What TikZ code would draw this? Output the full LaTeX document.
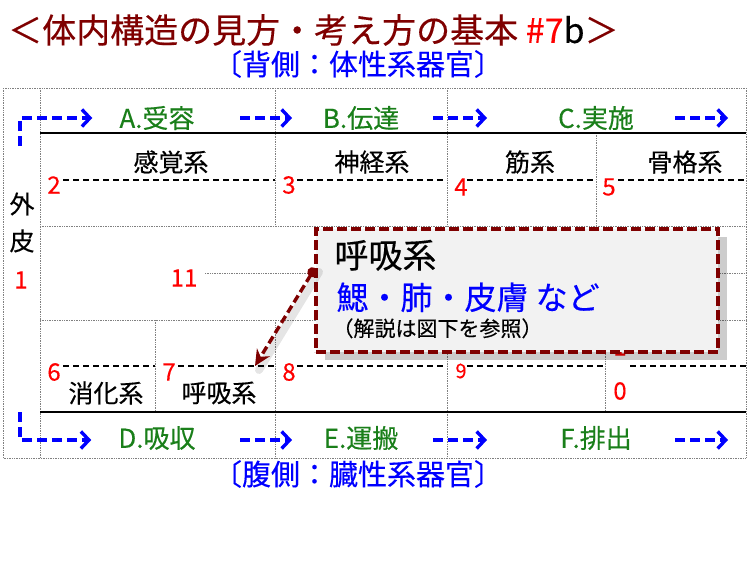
\documentclass[tikz,border=0pt]{standalone}
\usepackage{fontspec}
\setmainfont{Noto Sans CJK JP}[UprightFeatures={FakeBold=0.3}]
\usetikzlibrary{positioning,arrows.meta,shadows,calc}
\definecolor{ink}{HTML}{000000}
\definecolor{maroon}{HTML}{7F0000}
\definecolor{muted}{HTML}{808080}
\definecolor{oeblue}{HTML}{0000FF}
\definecolor{oegreen}{HTML}{1A7F1A}
\definecolor{oered}{HTML}{FF0000}
\definecolor{panel}{HTML}{F2F2F2}
\tikzset{
  cellline/.style={draw=muted, densely dotted, line width=0.7pt},
  bar/.style={draw=ink, line width=1.8pt},
  guide/.style={draw=ink, dash pattern=on 6pt off 4pt, line width=1.3pt},
  flow/.style={draw=oeblue, line width=3.4pt, dash pattern=on 10pt off 5pt, -{Straight Barb[length=8pt,width=17pt]}},
  stage/.style={font=\fontsize{26pt}{28pt}\selectfont, text=oegreen, inner sep=0pt},
  organ/.style={font=\fontsize{25pt}{28pt}\selectfont, text=ink, inner sep=0pt},
  num/.style={font=\fontsize{24pt}{28pt}\selectfont, text=oered, inner sep=0pt},
  sidetxt/.style={font=\fontsize{29pt}{30pt}\selectfont, text=oeblue, inner sep=0pt},
  card/.style={draw=maroon, fill=panel, line width=3.4pt, dash pattern=on 10pt off 4pt, inner sep=0pt,
               drop shadow={shadow xshift=9pt, shadow yshift=-8pt, opacity=0.2, fill=black}},
  pointer/.style={draw=maroon, line width=3.4pt, dash pattern=on 8pt off 4pt,
                  {Circle[length=10pt]}-{Stealth[length=16pt,width=15pt]}},
}

\begin{document}
\begin{tikzpicture}[x=1pt, y=-1pt]
  \useasboundingbox (0,0) rectangle (750,563);
  \node[anchor=west, inner sep=0pt, text=maroon, font=\fontsize{34pt}{36pt}\selectfont] (title) at (8,30)
    {＜体内構造の見方・考え方の基本 {\color{oered}\#7}{\color{ink}b}＞};
  \node[sidetxt] (dorsal) at (358,64) {〔背側：体性系器官〕};
  \node[sidetxt] (ventral) at (358,474) {〔腹側：臓性系器官〕};

  \draw[cellline] (3,88) rectangle (746,458);
  \foreach \x/\ya/\yb in {40/88/458, 275/88/226, 275/320/458, 447/88/226, 447/320/458, 596/133/226, 155/320/412, 605/320/412}
    \draw[cellline] (\x,\ya) -- (\x,\yb);
  \foreach \y/\xa in {226/40, 320/40, 273/205}
    \draw[cellline] (\xa,\y) -- (746,\y);
  \draw[bar] (40,133) -- (746,133);
  \draw[bar] (40,412) -- (746,412);
  \foreach \xa/\xb in {63/275, 297/447, 467/596, 618/746}
    \draw[guide] (\xa,180) -- (\xb,180);
  \foreach \xa/\xb in {63/155, 178/275, 297/447, 467/603, 630/746}
    \draw[guide] (\xa,366) -- (\xb,366);

  \foreach \t/\x/\y [count=\k] in {A.受容/157/118, B.伝達/361/118, C.実施/596/118, D.吸収/157/438, E.運搬/361/438, F.排出/596/438}
    \node[stage] (stage\k) at (\x,\y) {\t};
  \foreach \y/\r in {118/top, 440/bot} {
    \foreach \a/\b [count=\k] in {240/292, 433/487, 675/728} {
      \coordinate (\r\k s) at (\a,\y);
      \coordinate (\r\k e) at (\b,\y);
      \draw[flow] (\r\k s) -- (\r\k e);
    }
  }
  \coordinate (topin) at (20,146);
  \coordinate (botin) at (20,412);
  \draw[flow] (topin) |- ([xshift=-27pt]stage1.west);
  \draw[flow] (botin) |- ([xshift=-27pt,yshift=-2pt]stage4.west);

  \foreach \t/\x/\y [count=\k] in {感覚系/171/162, 神経系/372/162, 筋系/530/162, 骨格系/685/162, 消化系/106/393, 呼吸系/219/393, 外/22/204, 皮/22/241}
    \node[organ] (organ\k) at (\x,\y) {\t};
  \foreach \n/\x/\y in {1/21/280, 2/54/185, 3/289/185, 4/461/187, 5/609/187, 6/54/372, 7/169/372, 8/289/372, 11/184/278}
    \node[num] (num\n) at (\x,\y) {\n};
  \node[num, font=\fontsize{20pt}{24pt}\selectfont] (num9) at (461,371) {9};
  \node[num] (num10a) at (620,347) {1};
  \node[num] (num10b) at (620,391) {0};

  \node[card, minimum width=402pt, minimum height=123pt] (callout) at (517,290.5) {};
  \node[anchor=west, inner sep=0pt, font=\fontsize{34pt}{36pt}\selectfont] (cname) at ([xshift=20pt,yshift=-28pt]callout.north west) {呼吸系};
  \node[anchor=west, inner sep=0pt, text=oeblue, font=\fontsize{32pt}{34pt}\selectfont] (cparts) at ([xshift=22pt,yshift=-70pt]callout.north west) {鰓・肺・皮膚 など};
  \node[anchor=west, inner sep=0pt, font=\fontsize{21pt}{24pt}\selectfont] (cnote) at ([xshift=18pt,yshift=-101pt]callout.north west) {（解説は図下を参照）};
  \coordinate (dot) at (315,268);
  \coordinate (tip) at (255,366);
  \draw[black, opacity=0.1, line width=8pt, line cap=round] ([shift={(4pt,-4pt)}]dot) -- ([shift={(4pt,-4pt)}]tip);
  \draw[pointer] (dot) -- (tip);
\end{tikzpicture}
\end{document}
